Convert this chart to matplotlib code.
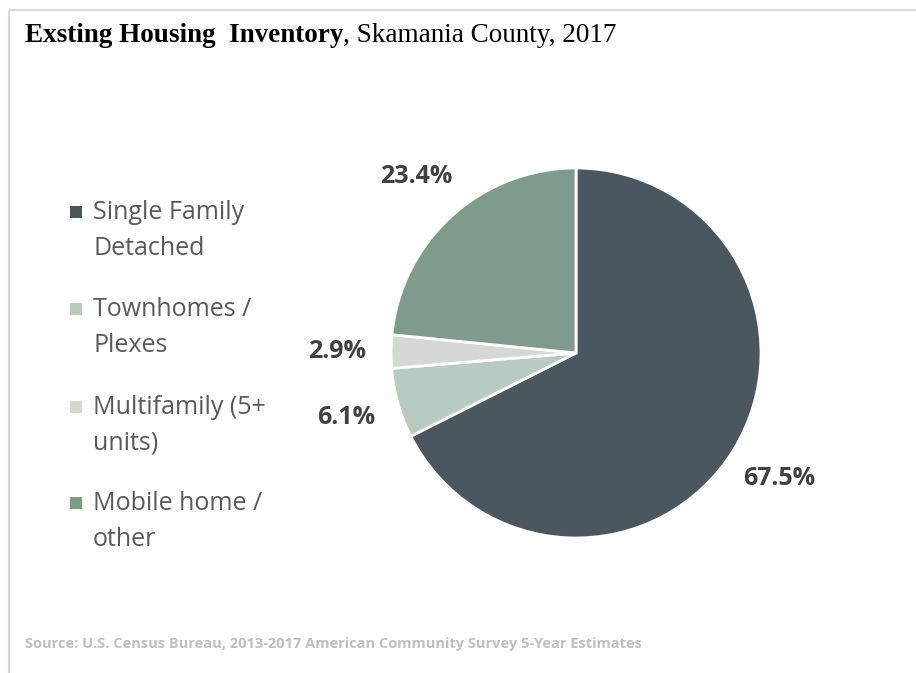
import matplotlib.pyplot as plt
from matplotlib.patches import Rectangle

# ==========================================
# 資料
# ==========================================
categories = ['Single Family\nDetached', 'Townhomes /\nPlexes',
              'Multifamily (5+\nunits)', 'Mobile home /\nother']
shares = [67.5, 6.1, 2.9, 23.4]
colors = ['#4b575e', '#b7cbc0', '#d5d8d2', '#7f9b8c']

TITLE_BOLD = 'Exsting Housing  Inventory'
TITLE_REST = ', Skamania County, 2017'
SOURCE = 'Source: U.S. Census Bureau, 2013-2017 American Community Survey 5-Year Estimates'

W, H = 916, 673
SANS = ['Open Sans', 'DejaVu Sans']
SERIF = ['Liberation Serif', 'DejaVu Serif']

fig = plt.figure(figsize=(W / 100, H / 100), dpi=100)
fig.patch.set_facecolor('white')

# 外框（上、左淡灰線）
border = fig.add_axes([0, 0, 1, 1])
border.set_xlim(0, W); border.set_ylim(H, 0)
border.axis('off')
border.plot([8.5, W], [9.5, 9.5], color='#d9d9d9', lw=1.5, solid_capstyle='butt')
border.plot([8.5, 8.5], [9.5, H], color='#d9d9d9', lw=1.5, solid_capstyle='butt')

# ── 標題 ──
t1 = fig.text(25 / W, 1 - 42 / H, TITLE_BOLD, family=SERIF, weight='bold',
              fontsize=19.5, color='black', va='baseline')
fig.canvas.draw()
bb = t1.get_window_extent()
fig.text(bb.x1 / W, 1 - 42 / H, TITLE_REST, family=SERIF, fontsize=19.5,
         color='black', va='baseline')

# ── 圓餅圖 ──
cx, cy, r = 576, 353, 185
ax = fig.add_axes([(cx - r) / W, (H - cy - r) / H, 2 * r / W, 2 * r / H])
wedges, texts = ax.pie(shares, colors=colors, startangle=90, counterclock=False,
                       labels=[f'{v:.1f}%' for v in shares], labeldistance=1.29,
                       wedgeprops=dict(edgecolor='white', linewidth=2),
                       textprops=dict(family=SANS, weight='bold', fontsize=18,
                                      color='#404040'))
for t in texts:
    t.set_ha('center'); t.set_va('center')
ax.set_xlim(-1, 1); ax.set_ylim(-1, 1)
ax.set_aspect('equal')

# ── 圖例（手動，逐行排版） ──
leg_base = [219, 316, 414, 510]
LINE_H = 36
for y, lab, c in zip(leg_base, categories, colors):
    border.add_patch(Rectangle((70, y - 13), 12, 12, facecolor=c, edgecolor='none'))
    for k, line in enumerate(lab.split('\n')):
        border.text(93, y + k * LINE_H, line, family=SANS, fontsize=18,
                    color='#595959', va='baseline', ha='left')

# ── 資料來源 ──
fig.text(25 / W, 1 - 648 / H, SOURCE, family=SANS, weight='bold', fontsize=10.5,
         color='#bfbfbf', va='baseline')

fig.savefig('out.png', dpi=100)
